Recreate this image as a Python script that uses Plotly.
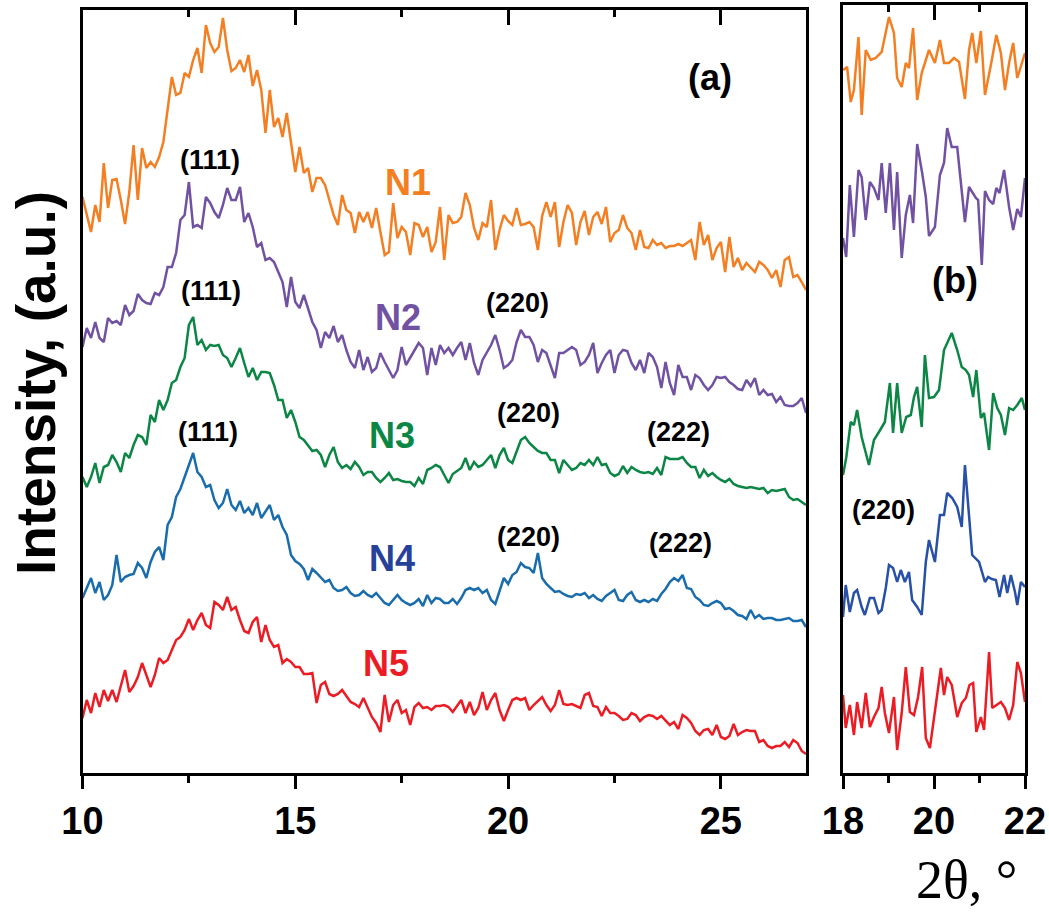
import numpy as np
import plotly.graph_objects as go

W, H = 1049, 915

# ---------------- panel (a): 2theta 10-27 deg, 0.1 deg step ----------------
two_theta_a = np.round(10 + 0.1 * np.arange(171), 1)

n1_a = [603, 585, 568, 595, 578, 637, 592, 620, 621, 600,
        576, 608, 655, 600, 652, 632, 638, 633, 643, 658,
        690, 723, 705, 707, 727, 723, 740, 752, 727, 775,
        757, 748, 753, 782, 750, 729, 732, 740, 728, 745,
        714, 730, 710, 667, 710, 673, 682, 663, 687, 655,
        628, 653, 627, 632, 608, 622, 622, 615, 600, 585,
        575, 605, 590, 587, 567, 588, 578, 588, 572, 592,
        568, 545, 548, 597, 562, 573, 568, 545, 577, 575,
        563, 573, 548, 558, 593, 540, 585, 577, 578, 583,
        607, 595, 572, 560, 577, 573, 600, 550, 570, 585,
        579, 575, 592, 575, 576, 578, 573, 550, 584, 598,
        583, 598, 553, 578, 595, 587, 555, 578, 589, 565,
        583, 588, 576, 593, 558, 567, 570, 585, 572, 567,
        550, 570, 553, 552, 560, 555, 557, 552, 554, 554,
        556, 554, 557, 560, 540, 578, 555, 565, 540, 552,
        558, 528, 563, 533, 542, 530, 537, 533, 528, 538,
        535, 530, 522, 530, 513, 540, 543, 523, 525, 518,
        510]

n2_a = [453, 472, 462, 478, 462, 458, 482, 477, 479, 475,
        495, 485, 489, 506, 500, 497, 496, 507, 505, 513,
        533, 533, 547, 580, 585, 618, 573, 575, 572, 603,
        597, 588, 582, 595, 612, 600, 600, 613, 578, 587,
        573, 553, 557, 540, 542, 538, 528, 518, 493, 523,
        498, 492, 505, 492, 478, 470, 452, 468, 462, 474,
        458, 465, 450, 438, 432, 450, 430, 443, 428, 432,
        447, 438, 430, 422, 430, 453, 435, 442, 450, 457,
        452, 425, 452, 435, 455, 447, 452, 445, 452, 458,
        440, 457, 437, 425, 440, 447, 455, 465, 450, 432,
        435, 440, 458, 470, 463, 463, 455, 438, 450, 447,
        435, 422, 447, 447, 450, 453, 450, 435, 438, 445,
        457, 427, 437, 445, 450, 427, 445, 450, 449, 437,
        430, 440, 427, 447, 443, 433, 412, 438, 417, 405,
        435, 423, 423, 410, 425, 422, 415, 410, 415, 423,
        422, 423, 418, 415, 411, 410, 420, 414, 422, 405,
        410, 405, 406, 398, 403, 395, 394, 394, 397, 402,
        387]

n3_a = [323, 313, 323, 337, 317, 333, 335, 345, 338, 328,
        347, 342, 355, 365, 363, 355, 385, 378, 400, 390,
        400, 417, 420, 433, 442, 475, 483, 455, 460, 450,
        455, 454, 455, 445, 442, 433, 442, 452, 437, 423,
        432, 420, 428, 428, 427, 415, 400, 400, 382, 390,
        378, 363, 360, 355, 349, 350, 345, 333, 345, 353,
        338, 332, 335, 331, 338, 333, 325, 328, 328, 322,
        318, 322, 327, 320, 321, 319, 318, 318, 314, 322,
        316, 330, 332, 335, 333, 325, 317, 326, 329, 332,
        342, 330, 338, 333, 335, 340, 345, 332, 345, 352,
        340, 337, 348, 360, 363, 357, 353, 349, 347, 347,
        340, 340, 327, 340, 335, 330, 332, 337, 335, 340,
        335, 343, 335, 336, 327, 324, 326, 334, 327, 333,
        330, 328, 327, 328, 326, 332, 325, 343, 341, 341,
        341, 343, 337, 333, 333, 322, 330, 324, 327, 323,
        320, 318, 321, 316, 314, 313, 312, 313, 312, 311,
        312, 307, 310, 309, 310, 311, 303, 300, 301, 298,
        295]

n4_a = [202, 212, 222, 207, 218, 200, 205, 215, 245, 218,
        223, 225, 226, 237, 232, 222, 238, 248, 253, 240,
        275, 283, 303, 311, 322, 335, 347, 328, 323, 313,
        315, 300, 292, 297, 311, 295, 290, 299, 287, 292,
        285, 297, 282, 288, 295, 280, 285, 273, 265, 245,
        239, 236, 231, 220, 231, 227, 222, 218, 220, 212,
        209, 210, 213, 207, 204, 205, 209, 205, 203, 207,
        202, 197, 195, 200, 205, 200, 197, 195, 197, 201,
        194, 205, 197, 202, 201, 197, 197, 201, 196, 202,
        210, 212, 210, 212, 207, 210, 200, 196, 210, 222,
        216, 225, 228, 237, 233, 232, 227, 247, 222, 216,
        212, 208, 209, 206, 204, 203, 206, 205, 207, 202,
        205, 201, 199, 204, 207, 210, 200, 199, 205, 208,
        200, 198, 200, 198, 201, 199, 206, 211, 218, 222,
        219, 225, 212, 211, 203, 200, 195, 194, 197, 199,
        197, 191, 192, 189, 185, 184, 181, 190, 182, 185,
        181, 182, 182, 180, 180, 181, 182, 179, 179, 180,
        173]

n5_a = [82, 100, 87, 107, 93, 110, 99, 110, 98, 115,
        130, 108, 114, 123, 137, 125, 113, 125, 142, 137,
        140, 150, 160, 163, 170, 181, 170, 180, 187, 175,
        172, 198, 195, 190, 203, 190, 193, 180, 169, 167,
        178, 183, 158, 175, 160, 153, 155, 137, 141, 138,
        133, 133, 126, 126, 127, 97, 115, 118, 106, 104,
        106, 110, 104, 98, 96, 93, 102, 92, 83, 77,
        68, 105, 78, 95, 100, 87, 90, 75, 93, 97,
        92, 93, 90, 94, 94, 95, 93, 88, 94, 100,
        87, 98, 85, 92, 108, 90, 100, 107, 90, 79,
        90, 100, 102, 100, 102, 90, 95, 99, 103, 95,
        89, 95, 110, 96, 95, 96, 94, 92, 105, 107,
        94, 93, 84, 93, 87, 87, 84, 80, 81, 87,
        85, 79, 83, 85, 84, 81, 84, 80, 75, 78,
        71, 85, 82, 77, 69, 65, 70, 71, 65, 75,
        63, 61, 64, 76, 65, 68, 70, 69, 69, 58,
        60, 54, 52, 54, 54, 58, 53, 60, 57, 49,
        46]

# ---------------- panel (b): 2theta 18-22 deg ----------------
n1_b_x = [18.00, 18.09, 18.17, 18.24, 18.34, 18.41, 18.50, 18.61, 18.72, 18.85,
          19.01, 19.12, 19.19, 19.29, 19.38, 19.45, 19.54, 19.63, 19.73, 19.82,
          19.89, 20.02, 20.13, 20.22, 20.33, 20.44, 20.55, 20.68, 20.77, 20.84,
          20.93, 21.03, 21.12, 21.25, 21.37, 21.47, 21.56, 21.65, 21.74, 21.83,
          22.00]
n1_b = [730, 733, 698, 710, 763, 685, 750, 740, 742, 748,
        783, 767, 722, 713, 737, 732, 772, 700, 727, 740,
        750, 737, 760, 737, 737, 742, 738, 701, 750, 767,
        737, 769, 705, 735, 765, 747, 710, 737, 757, 722,
        747]

n2_b_x = [18.00, 18.07, 18.15, 18.24, 18.34, 18.41, 18.50, 18.59, 18.68, 18.78,
          18.85, 18.94, 19.03, 19.12, 19.19, 19.29, 19.38, 19.47, 19.54, 19.63,
          19.74, 19.82, 19.89, 20.02, 20.13, 20.22, 20.29, 20.39, 20.51, 20.61,
          20.68, 20.77, 20.92, 20.97, 21.05, 21.12, 21.21, 21.30, 21.37, 21.44,
          21.54, 21.65, 21.74, 21.83, 21.91, 22.00]
n2_b = [562, 543, 615, 563, 630, 623, 580, 618, 612, 600,
        637, 587, 637, 570, 628, 542, 585, 605, 577, 656,
        627, 603, 564, 573, 625, 637, 672, 653, 653, 607,
        578, 613, 602, 600, 535, 609, 600, 596, 612, 607,
        630, 593, 570, 591, 583, 622]

n3_b_x = [18.00, 18.07, 18.17, 18.24, 18.31, 18.41, 18.57, 18.68, 18.79, 18.92,
          19.03, 19.10, 19.19, 19.29, 19.39, 19.49, 19.56, 19.63, 19.73, 19.80,
          19.89, 20.00, 20.11, 20.22, 20.39, 20.51, 20.61, 20.70, 20.77, 20.86,
          20.93, 21.03, 21.10, 21.21, 21.30, 21.39, 21.47, 21.56, 21.65, 21.74,
          21.83, 21.93, 22.00]
n3_b = [325, 342, 378, 375, 390, 363, 335, 360, 368, 378,
        417, 367, 417, 367, 383, 385, 403, 413, 373, 445,
        402, 403, 410, 450, 467, 450, 433, 430, 425, 403,
        430, 382, 387, 350, 407, 392, 385, 365, 392, 390,
        395, 402, 390]

n4_b_x = [18.00, 18.06, 18.15, 18.24, 18.31, 18.41, 18.48, 18.59, 18.68, 18.78,
          18.85, 18.94, 19.01, 19.10, 19.19, 19.27, 19.36, 19.45, 19.52, 19.63,
          19.73, 19.82, 19.89, 20.02, 20.13, 20.22, 20.29, 20.40, 20.51, 20.61,
          20.68, 20.75, 20.84, 20.99, 21.12, 21.19, 21.27, 21.36, 21.44, 21.54,
          21.61, 21.69, 21.78, 21.83, 21.91, 22.00]
n4_b = [183, 215, 188, 207, 210, 193, 185, 202, 202, 187,
        190, 212, 235, 232, 218, 230, 218, 228, 200, 193,
        185, 238, 260, 238, 285, 285, 307, 302, 293, 273,
        335, 295, 245, 238, 218, 223, 221, 220, 203, 225,
        207, 225, 208, 195, 218, 213]

n5_b_x = [18.00, 18.06, 18.15, 18.24, 18.31, 18.41, 18.50, 18.59, 18.68, 18.78,
          18.85, 18.92, 19.01, 19.12, 19.19, 19.29, 19.38, 19.47, 19.56, 19.65,
          19.74, 19.82, 19.91, 20.02, 20.15, 20.22, 20.29, 20.39, 20.51, 20.61,
          20.70, 20.78, 20.86, 20.93, 21.03, 21.10, 21.21, 21.28, 21.37, 21.47,
          21.56, 21.65, 21.74, 21.83, 21.91, 22.00]
n5_b = [105, 72, 95, 65, 98, 72, 107, 73, 83, 92,
        113, 87, 67, 103, 50, 87, 133, 88, 85, 103,
        133, 62, 52, 90, 132, 105, 123, 115, 83, 97,
        102, 115, 117, 68, 83, 70, 148, 92, 95, 98,
        92, 80, 95, 138, 127, 98]

sample_names = ["N1", "N2", "N3", "N4", "N5"]
line_colors_a = ["#F47F22", "#7152A2", "#0B8644", "#1A6DAC", "#EC1C24"]
line_colors_b = ["#F47F22", "#7152A2", "#0B8644", "#2750A6", "#EC1C24"]
label_colors = ["#F47F22", "#7152A2", "#0B8644", "#27409A", "#EC1C24"]

SANS = "Liberation Sans, Arial, sans-serif"
SERIF = "Liberation Serif, Times New Roman, serif"


def px(x):
    return x / W


def py(y):
    return 1 - y / H


fig = go.Figure()

for name, ys, col in zip(sample_names, [n1_a, n2_a, n3_a, n4_a, n5_a], line_colors_a):
    fig.add_trace(go.Scatter(x=two_theta_a, y=ys, mode="lines", name=name,
                             line=dict(color=col, width=2.5),
                             xaxis="x", yaxis="y", showlegend=False))

for name, xs, ys, col in zip(sample_names,
                             [n1_b_x, n2_b_x, n3_b_x, n4_b_x, n5_b_x],
                             [n1_b, n2_b, n3_b, n4_b, n5_b], line_colors_b):
    fig.add_trace(go.Scatter(x=xs, y=ys, mode="lines", name=name,
                             line=dict(color=col, width=2.5),
                             xaxis="x2", yaxis="y2", showlegend=False))

# empty traces so the inner top-tick axes are drawn
fig.add_trace(go.Scatter(x=[], y=[], xaxis="x3", yaxis="y", showlegend=False))
fig.add_trace(go.Scatter(x=[], y=[], xaxis="x4", yaxis="y2", showlegend=False))

dom_a = [px(82.5), px(806)]
dom_b = [px(843), px(1025)]

common_x = dict(showline=True, linecolor="black", linewidth=2.5, mirror=True,
                ticks="outside", ticklen=13, tickwidth=2.5, tickcolor="black",
                tickfont=dict(family=SANS, size=38, color="black", weight="bold"),
                showgrid=False, zeroline=False, tickmode="array", automargin=False)
common_top = dict(ticks="inside", ticklen=15, tickwidth=2.5, tickcolor="black",
                  showticklabels=False, showline=False, showgrid=False,
                  zeroline=False, side="top", tickmode="array", automargin=False)
common_y = dict(showline=True, linecolor="black", linewidth=2.5, mirror=True,
                ticks="", showticklabels=False, showgrid=False, zeroline=False,
                automargin=False)

fig.update_layout(
    width=W, height=H,
    margin=dict(l=0, r=0, t=0, b=0, pad=0, autoexpand=False),
    paper_bgcolor="white", plot_bgcolor="white",
    showlegend=False,
    xaxis=dict(domain=dom_a, range=[10, 27], anchor="y",
               tickvals=[10, 15, 20, 25],
               minor=dict(tickvals=[12.5, 17.5, 22.5], ticks="outside",
                          ticklen=7, tickwidth=2.5, tickcolor="black"),
               **common_x),
    xaxis2=dict(domain=dom_b, range=[18, 22], anchor="y2",
                tickvals=[18, 20, 22],
                minor=dict(tickvals=[19, 21], ticks="outside",
                           ticklen=7, tickwidth=2.5, tickcolor="black"),
                **common_x),
    xaxis3=dict(domain=dom_a, range=[10, 27], overlaying="x", anchor="y",
                tickvals=[15, 20, 25],
                minor=dict(tickvals=[12.5, 17.5, 22.5], ticks="inside",
                           ticklen=7, tickwidth=2.5, tickcolor="black"),
                **common_top),
    xaxis4=dict(domain=dom_b, range=[18, 22], overlaying="x2", anchor="y2",
                tickvals=[20],
                minor=dict(tickvals=[19, 21], ticks="inside",
                           ticklen=7, tickwidth=2.5, tickcolor="black"),
                **common_top),
    yaxis=dict(domain=[py(773), py(10)], range=[27, 790], anchor="x", **common_y),
    yaxis2=dict(domain=[py(773), py(5)], range=[27, 795], anchor="x2", **common_y),
)

annotations = []


def label(text, x, y, size, color="black", family=SANS, bold=True, angle=0):
    annotations.append(dict(
        text=f"<b>{text}</b>" if bold else text,
        x=px(x), y=py(y), xref="paper", yref="paper",
        xanchor="center", yanchor="middle", showarrow=False, textangle=angle,
        font=dict(family=family, size=size, color=color)))


label("(a)", 710, 77, 36)
label("(b)", 955, 280, 36)

for name, col, (lx, ly) in zip(sample_names, label_colors,
                               [(408, 182), (398, 317), (392, 435), (392, 558), (386, 663)]):
    label(name, lx, ly, 36, color=col)

for (lx, ly) in [(210, 160), (211, 291), (208, 432)]:
    label("(111)", lx, ly, 27)
for (lx, ly) in [(517, 303), (528, 413), (528, 537), (883, 510)]:
    label("(220)", lx, ly, 27)
for (lx, ly) in [(678, 432), (680, 543)]:
    label("(222)", lx, ly, 27)

label("Intensity, (a.u.)", 36, 383, 55, angle=-90)
label("2θ, °", 966, 880, 54, family=SERIF, bold=False)

fig.update_layout(annotations=annotations)

fig.write_html("out.html", config=dict(displayModeBar=False))
